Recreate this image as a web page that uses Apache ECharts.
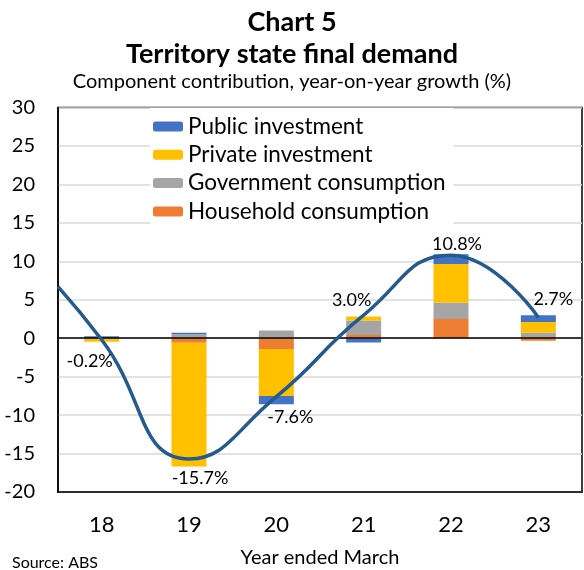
<!DOCTYPE html>
<html>
<head>
<meta charset="utf-8">
<script src="https://cdn.jsdelivr.net/npm/echarts@6/dist/echarts.min.js"></script>
<style>
  html, body { margin: 0; padding: 0; background: #fff; }
  #main { width: 584px; height: 570px; }
</style>
</head>
<body>
<div id="main"></div>
<script>
// year ended March
const years = ["18", "19", "20", "21", "22", "23"];

// component contributions (ppt)
const household = [-0.05, -0.6, -1.4, 0.43, 2.5, -0.33];
const government = [0.0, 0.5, 1.0, 1.86, 2.12, 0.72];
const privateInv = [-0.4, -16.1, -6.1, 0.52, 5.03, 1.39];
const publicInv = [0.25, 0.2, -1.1, -0.57, 1.26, 0.87];

// total SFD growth (%), the line; first point is where the line enters at the left edge
const totalX = [17.5, 18, 19, 20, 21, 22, 23];
const totalVal = [6.7, -0.2, -15.7, -7.6, 3.0, 10.8, 2.7];

const yTicks = [-20, -15, -10, -5, 0, 5, 10, 15, 20, 25, 30];

// label offsets from each point, pixels
const labelOffsets = [null, [-12, 21], [11, 19], [14, 21], [-12, -15], [6, -11], [15, -18]];

const font = "Lato";
const chart = echarts.init(document.getElementById("main"));

const lineData = totalX.map((x, i) => {
  const item = { value: [x, totalVal[i]] };
  if (labelOffsets[i]) {
    item.label = { show: true, position: "inside", offset: labelOffsets[i] };
  } else {
    item.label = { show: false };
  }
  return item;
});

function barSeries(name, data, color) {
  return {
    name: name,
    type: "bar",
    stack: "total",
    barWidth: 35,
    data: data,
    itemStyle: { color: color },
  };
}

const option = {
  animation: false,
  textStyle: { fontFamily: font },
  title: [
    {
      text: "Chart 5",
      left: "center",
      top: 4,
      textStyle: { fontFamily: font, fontSize: 27, fontWeight: "bold", color: "#000" },
    },
    {
      text: "Territory state final demand",
      left: "center",
      top: 36,
      textStyle: { fontFamily: font, fontSize: 27, fontWeight: "bold", color: "#000" },
    },
    {
      text: "Component contribution, year-on-year growth (%)",
      left: "center",
      top: 67,
      textStyle: { fontFamily: font, fontSize: 20, fontWeight: "normal", color: "#000" },
    },
  ],
  legend: {
    orient: "vertical",
    left: 150,
    top: 108,
    padding: [7, 8, 5, 3],
    itemGap: 5.3,
    itemWidth: 30,
    itemHeight: 10,
    backgroundColor: "#fff",
    data: ["Public investment", "Private investment", "Government consumption", "Household consumption"],
    textStyle: { fontFamily: font, fontSize: 22.5, color: "#000" },
  },
  graphic: [
    {
      type: "text",
      left: 12,
      top: 555,
      style: { text: "Source: ABS", fontFamily: font, fontSize: 16, fill: "#000" },
    },
  ],
  grid: {
    left: 58,
    right: 2,
    top: 107.5,
    bottom: 78,
    outerBoundsMode: "none",
    show: true,
    borderColor: "#000",
    borderWidth: 1.5,
  },
  xAxis: [
    {
      type: "category",
      data: years,
      name: "Year ended March",
      nameLocation: "middle",
      nameGap: 56,
      nameTextStyle: { fontFamily: font, fontSize: 20, color: "#000" },
      axisLine: { onZero: false, lineStyle: { color: "#000", width: 1.5 } },
      axisTick: { show: false },
      axisLabel: { fontFamily: font, fontSize: 22, color: "#000", margin: 22 },
    },
    {
      type: "value",
      min: 17.5,
      max: 23.5,
      show: false,
    },
  ],
  yAxis: {
    type: "value",
    min: yTicks[0],
    max: yTicks[yTicks.length - 1],
    interval: 5,
    axisLine: { show: true, lineStyle: { color: "#000", width: 1.5 } },
    axisTick: { show: false },
    axisLabel: { fontFamily: font, fontSize: 20, color: "#000", margin: 23 },
    splitLine: { lineStyle: { color: "#d9d9d9", width: 1.5 } },
  },
  series: [
    Object.assign(barSeries("Household consumption", household, "#ED7D31"), {
      markLine: {
        silent: true,
        symbol: "none",
        label: { show: false },
        lineStyle: { color: "#000", width: 1.5, type: "solid" },
        data: [{ yAxis: 0 }],
      },
    }),
    barSeries("Government consumption", government, "#A5A5A5"),
    barSeries("Private investment", privateInv, "#FFC000"),
    barSeries("Public investment", publicInv, "#4472C4"),
    {
      name: "Total",
      type: "line",
      xAxisIndex: 1,
      smooth: 0.5,
      symbol: "circle",
      symbolSize: 0.1,
      z: 5,
      data: lineData,
      lineStyle: { color: "#245A8C", width: 3.5 },
      itemStyle: { color: "#245A8C" },
      label: {
        fontFamily: font,
        fontSize: 18,
        color: "#000",
        formatter: (p) => p.value[1].toFixed(1) + "%",
      },
    },
  ],
};

chart.setOption(option);
</script>
</body>
</html>
